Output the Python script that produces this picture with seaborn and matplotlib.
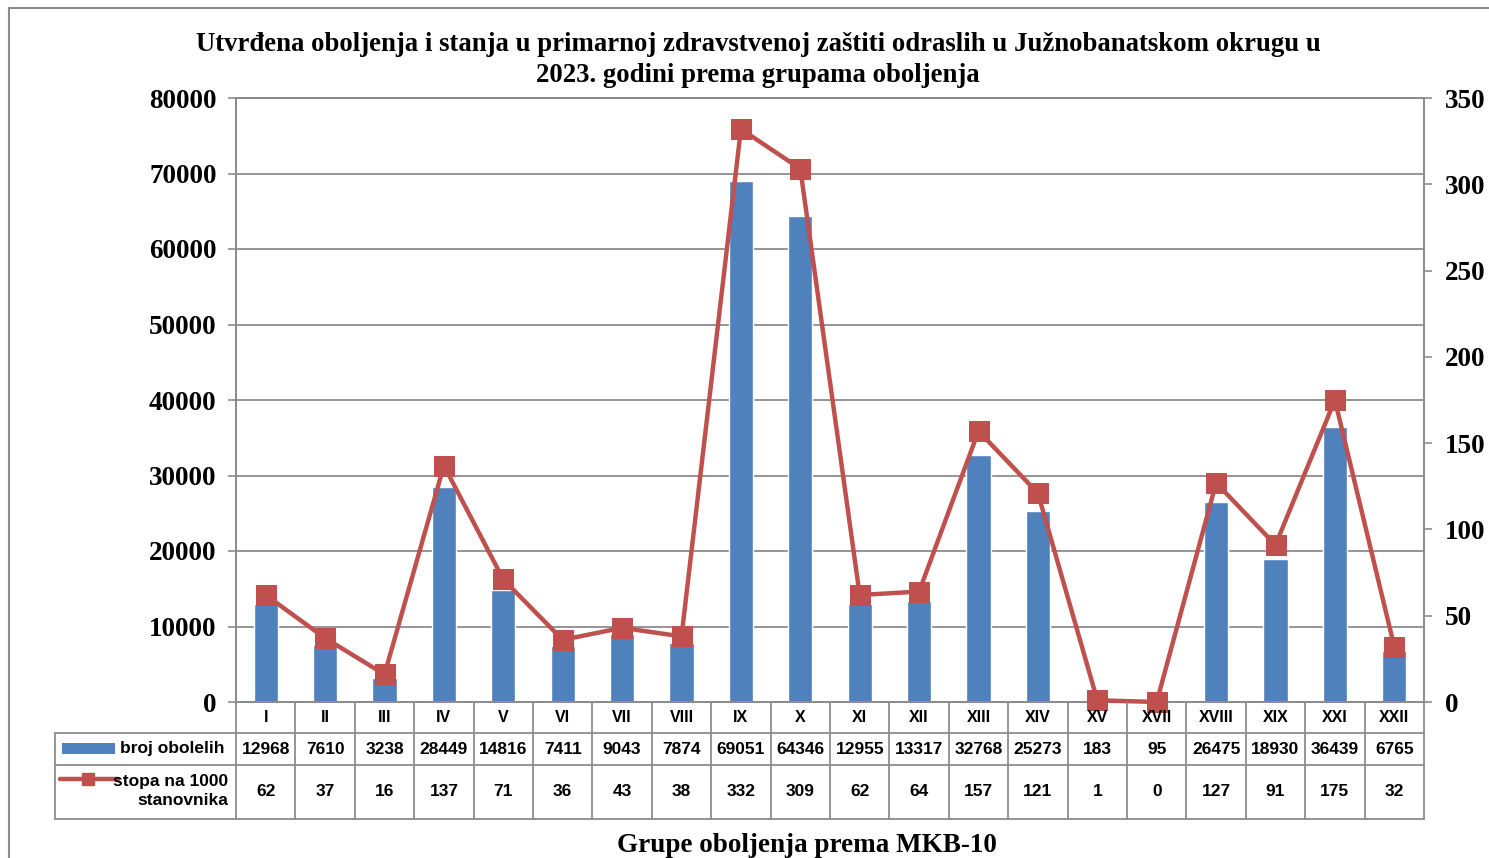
import numpy as np
import pandas as pd
import matplotlib
matplotlib.use("Agg")
import matplotlib.pyplot as plt
import seaborn as sns
from matplotlib.lines import Line2D
from matplotlib.patches import Rectangle
from matplotlib.transforms import blended_transform_factory

categories = ["I", "II", "III", "IV", "V", "VI", "VII", "VIII", "IX", "X",
              "XI", "XII", "XIII", "XIV", "XV", "XVII", "XVIII", "XIX", "XXI", "XXII"]
broj_obolelih = [12968, 7610, 3238, 28449, 14816, 7411, 9043, 7874, 69051, 64346,
                 12955, 13317, 32768, 25273, 183, 95, 26475, 18930, 36439, 6765]
stopa = [62, 37, 16, 137, 71, 36, 43, 38, 332, 309,
         62, 64, 157, 121, 1, 0, 127, 91, 175, 32]
left_ticks = [0, 10000, 20000, 30000, 40000, 50000, 60000, 70000, 80000]
right_ticks = [0, 50, 100, 150, 200, 250, 300, 350]

title = ("Utvrđena oboljenja i stanja u primarnoj zdravstvenoj zaštiti odraslih u Južnobanatskom okrugu u\n"
         "2023. godini prema grupama oboljenja")
xlabel = "Grupe oboljenja prema MKB-10"
label_bars = "broj obolelih"
label_line = "stopa na 1000\nstanovnika"

BLUE = "#4F81BD"
RED = "#C0504D"
GRID = "#8C8C8C"

sns.set_style("white")
plt.rcParams['font.family'] = ['Liberation Serif', 'DejaVu Serif']
plt.rcParams['text.color'] = 'black'
plt.rcParams['ytick.labelcolor'] = 'black'
SANS = ['Liberation Sans Narrow', 'Liberation Sans', 'DejaVu Sans']

W, H = 1489, 858
fig = plt.figure(figsize=(W / 100, H / 100), dpi=100)

def fx(px):
    return px / W

def fy(py):
    return (H - py) / H

x0, x1, y0, y1 = 236, 1424, 702, 98
ax = fig.add_axes([fx(x0), fy(y0), fx(x1) - fx(x0), fy(y1) - fy(y0)])

df = pd.DataFrame({"cat": categories, "val": broj_obolelih})
sns.barplot(data=df, x="cat", y="val", color=BLUE, width=0.41, ax=ax,
            saturation=1, zorder=2)
n = len(categories)
ax.set_xlim(-0.5, n - 0.5)
ax.set_ylim(0, 80000)
ax.set_yticks(left_ticks)
ax.set_yticklabels([str(t) for t in left_ticks], fontsize=19.5, fontweight='bold',
                   color='black')
ax.tick_params(axis='y', direction='out', length=6, width=1.2, color=GRID, pad=8)
ax.tick_params(axis='x', length=0, labelbottom=False)
ax.set_xlabel("")
ax.set_ylabel("")
ax.yaxis.grid(True, color=GRID, linewidth=1.3, zorder=0)
ax.set_axisbelow(True)
for s in ax.spines.values():
    s.set_color(GRID)
    s.set_linewidth(1.3)

ax2 = ax.twinx()
sns.lineplot(x=np.arange(n), y=stopa, ax=ax2, color=RED, linewidth=3.2,
             marker='s', markersize=14, markeredgecolor=RED, markerfacecolor=RED,
             clip_on=False, zorder=5)
ax2.set_ylim(0, 350)
ax2.set_yticks(right_ticks)
ax2.set_yticklabels([str(t) for t in right_ticks], fontsize=19.5, fontweight='bold',
                    color='black')
ax2.tick_params(axis='y', direction='out', length=6, width=1.2, color=GRID, pad=9)
ax2.set_ylabel("")
for s in ax2.spines.values():
    s.set_color(GRID)
    s.set_linewidth(1.3)

# Title and x label
fig.text(fx(758), fy(60), title, ha='center', va='center', fontsize=19.3,
         fontweight='bold', linespacing=1.3, color='black')
fig.text(fx(807), fy(845), xlabel, ha='center', va='center', fontsize=19.5,
         fontweight='bold', color='black')

# Data table
bt = blended_transform_factory(ax.transData, fig.transFigure)
lw = 1.3
fig.add_artist(Line2D([fx(55), fx(x1)], [fy(733), fy(733)], color=GRID, lw=lw))
fig.add_artist(Line2D([fx(55), fx(x1)], [fy(765), fy(765)], color=GRID, lw=lw))
fig.add_artist(Line2D([fx(55), fx(x1)], [fy(819), fy(819)], color=GRID, lw=lw))
fig.add_artist(Line2D([fx(55), fx(55)], [fy(733), fy(819)], color=GRID, lw=lw))
for i in range(n + 1):
    xb = i - 0.5
    fig.add_artist(Line2D([xb, xb], [fy(702), fy(819)], color=GRID, lw=lw,
                          transform=bt))

for i in range(n):
    fig.text(i, fy(718), categories[i], transform=bt, ha='center', va='center',
             fontsize=11.5, fontweight='bold', family=SANS, color='black')
    fig.text(i, fy(749), str(broj_obolelih[i]), transform=bt, ha='center',
             va='center', fontsize=12.5, fontweight='bold', family=SANS, color='black')
    fig.text(i, fy(792), str(stopa[i]), transform=bt, ha='center',
             va='center', fontsize=12.5, fontweight='bold', family=SANS, color='black')

# legend keys in table
fig.add_artist(Rectangle((fx(62), fy(754)), fx(115) - fx(62), fy(743) - fy(754),
                         facecolor=BLUE, edgecolor='none'))
fig.text(fx(120), fy(749), label_bars, ha='left', va='center', fontsize=12.5,
         fontweight='bold', family=SANS, color='black')
fig.add_artist(Line2D([fx(60), fx(118)], [fy(779), fy(779)], color=RED, lw=3.2))
fig.add_artist(Line2D([fx(88)], [fy(779)], color=RED, marker='s', markersize=9,
                      markeredgecolor=RED, markerfacecolor=RED))
fig.text(fx(228), fy(791), label_line, ha='right', va='center', fontsize=12.5,
         fontweight='bold', family=SANS, linespacing=1.3, color='black')

# outer border
fig.add_artist(Line2D([fx(9), fx(9), 1.0], [0.0, fy(8), fy(8)], color=GRID, lw=1.5))

fig.savefig("out.png", dpi=100)
